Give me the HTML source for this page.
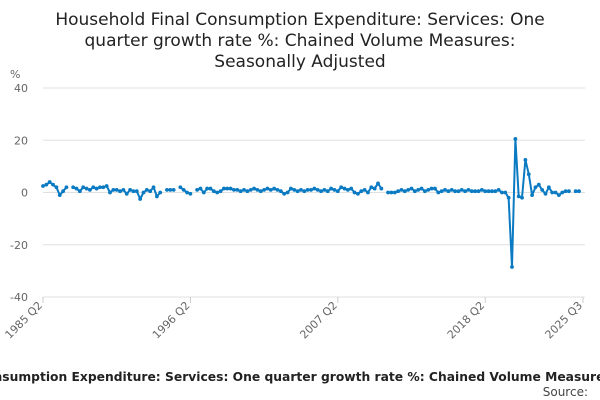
<!DOCTYPE html>
<html><head><meta charset="utf-8"><style>
body{margin:0;background:#fff;font-family:"DejaVu Sans","Liberation Sans",sans-serif;}
#wrap{position:relative;width:600px;height:400px;overflow:hidden;}
</style></head><body>
<div id="wrap">
<svg id="svg" width="600" height="400" xmlns="http://www.w3.org/2000/svg" font-family="DejaVu Sans, Liberation Sans, sans-serif">
<text x="300" y="25" text-anchor="middle" font-size="17" fill="#222">Household Final Consumption Expenditure: Services: One</text>
<text x="300" y="46" text-anchor="middle" font-size="17" fill="#222">quarter growth rate %: Chained Volume Measures:</text>
<text x="300" y="67" text-anchor="middle" font-size="17" fill="#222">Seasonally Adjusted</text>
<text x="10" y="78" font-size="11" fill="#666">%</text>
<g id="grid"></g><g id="xaxis"></g><g id="series"></g>
<text x="236" y="381" text-anchor="middle" font-size="12.3" font-weight="bold" fill="#222">Household Final Consumption Expenditure: Services: One quarter growth rate %: Chained Volume Measures</text>
<text x="588" y="396" text-anchor="end" font-size="12" fill="#444">Source:</text>
</svg></div>
<script>
const yTicks=[40,20,0,-20,-40];
const xTickLabels=["1985 Q2","1996 Q2","2007 Q2","2018 Q2","2025 Q3"];
const xTickIndex=[0,44,88,132,161-1];
const values=[2.5,3,4,3,2,-1,0.5,2,null,2,1.5,0.5,2,1.5,1,2,1.5,2,2,2.5,
0,1,1,0.5,1,-0.5,1,0.5,0.5,-2.5,0,1,0.5,2,-1.5,0,null,1,1,1,
null,2,1,0,-0.5,null,1,1.5,0,1.5,1.5,0.5,0,0.5,1.5,1.5,1.5,1,1,0.5,
1,0.5,1,1.5,1,0.5,1,1.5,1,1.5,1,0.5,-0.5,0,1.5,1,0.5,1,0.5,1,
1,1.5,1,0.5,1,0.5,1.5,1,0.5,2,1.5,1,1.5,0,-0.5,0.5,1,0,2,1.5,
3.5,1.5,null,0,0,0,0.5,1,0.5,1,1.5,0.5,1,1.5,0.5,1,1.5,1.5,0,0.5,
1,0.5,1,0.5,0.5,1,0.5,1,0.5,0.5,0.5,1,0.5,0.5,0.5,0.5,1,0,0,-2,
-28.5,20.5,-1.5,-2,12.5,7,-1,2,3,1,-0.5,2,0,0,-1,0,0.5,0.5,null,0.5,0.5];
const NS="http://www.w3.org/2000/svg";
const X0=43,X1=579,Y40=88,Ym40=297;
const xs=i=>X0+i*(X1-X0)/(values.length-1);
const ys=v=>Y40+(40-v)*(Ym40-Y40)/80;
function mk(t,a,p){const e=document.createElementNS(NS,t);for(const k in a)e.setAttribute(k,a[k]);p.appendChild(e);return e;}
const grid=document.getElementById('grid');
yTicks.forEach(t=>{
 const l=mk('line',{x1:X0,x2:585,y1:ys(t),y2:ys(t),stroke:'#e0e0e0','stroke-width':1},grid);
 
 
 const tx=mk('text',{x:28,y:ys(t)+4,'text-anchor':'end','font-size':11,fill:'#666'},grid);
 tx.textContent=t;
 
 
});
const xa=document.getElementById('xaxis');
xTickIndex.forEach((ix,k)=>{
 const x=(k===xTickLabels.length-1)?583:xs(ix);
 const l=mk('line',{x1:x,x2:x,y1:Ym40,y2:Ym40+6,stroke:'#ccc'},xa);
 
 
 const tx=mk('text',{x:x,y:Ym40+9,'text-anchor':'end','font-size':11,fill:'#666',transform:`rotate(-45 ${x} ${Ym40+9})`},xa);
 tx.textContent=xTickLabels[k];
 
 
});
const sg=document.getElementById('series');
let d='',pen=false;
values.forEach((v,i)=>{if(v===null){pen=false;return;}d+=(pen?'L':'M')+xs(i).toFixed(1)+' '+ys(v).toFixed(1);pen=true;});
const p=mk('path',{d:d,fill:'none',stroke:'#0a7ac2','stroke-width':2,'stroke-linejoin':'round'},sg);


values.forEach((v,i)=>{if(v===null)return;
 const c=mk('circle',{cx:xs(i),cy:ys(v),r:1.9,fill:'#0a7ac2'},sg);
 
 
});
</script>
</body></html>
